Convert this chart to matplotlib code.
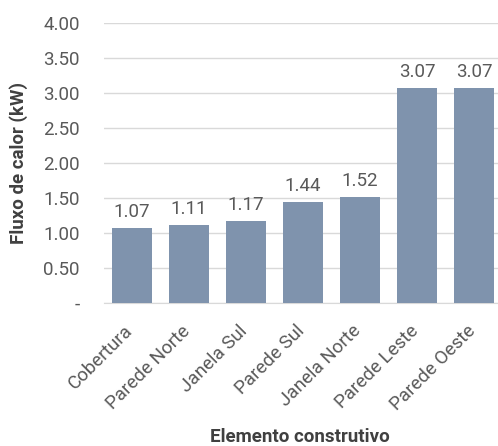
import matplotlib
matplotlib.use("Agg")
import matplotlib.pyplot as plt
import matplotlib.transforms as mtransforms
from matplotlib.ticker import FuncFormatter

plt.rcParams['font.family'] = ['Roboto', 'DejaVu Sans']

elementos = ["Cobertura", "Parede Norte", "Janela Sul", "Parede Sul",
             "Janela Norte", "Parede Leste", "Parede Oeste"]
fluxo_kw = [1.07, 1.11, 1.17, 1.44, 1.52, 3.07, 3.07]
y_ticks = [0, 0.5, 1.0, 1.5, 2.0, 2.5, 3.0, 3.5, 4.0]

fig = plt.figure(figsize=(4.98, 4.46), dpi=100)
ax = fig.add_axes([0.208, 0.3206, 0.801, 0.6278])

bar_color = "#7f93ad"
text_gray = "#595959"
label_dark = "#404040"
fs = 13.5

x = list(range(len(elementos)))
ax.bar(x, fluxo_kw, width=0.7, color=bar_color, zorder=3)

for xi, v in zip(x, fluxo_kw):
    ax.annotate(f"{v:.2f}", (xi, v), xytext=(0, 8), textcoords="offset points",
                ha="center", va="baseline", fontsize=fs, color=text_gray)

ax.set_xlim(-0.5, len(elementos) - 0.5)
ax.set_ylim(0, 4.0)
ax.set_yticks(y_ticks)
ax.yaxis.set_major_formatter(FuncFormatter(lambda v, p: "-" if v == 0 else f"{v:.2f}"))
ax.grid(axis="y", color="#d9d9d9", linewidth=1, zorder=0)
ax.set_axisbelow(True)

for s in ["top", "right", "left"]:
    ax.spines[s].set_visible(False)
ax.spines["bottom"].set_color("#d9d9d9")

ax.tick_params(axis="both", length=0, colors=text_gray, labelsize=fs)
ax.tick_params(axis="y", pad=17)
ax.set_xticks(x)
ax.set_xticklabels(elementos, rotation=45, ha="right", rotation_mode="anchor")
ax.tick_params(axis="x", pad=10)
shift = mtransforms.ScaledTranslation(-0.08, -0.05, fig.dpi_scale_trans)
for lbl in ax.get_xticklabels():
    lbl.set_transform(lbl.get_transform() + shift)

ax.set_ylabel("Fluxo de calor (kW)", fontsize=fs, fontweight="bold", color=label_dark)
ax.yaxis.set_label_coords(-0.19, 0.5)
ax.set_xlabel("Elemento construtivo", fontsize=fs, fontweight="bold", color=label_dark)
ax.xaxis.set_label_coords(0.492, -0.446)

fig.savefig("out.png", dpi=100)
